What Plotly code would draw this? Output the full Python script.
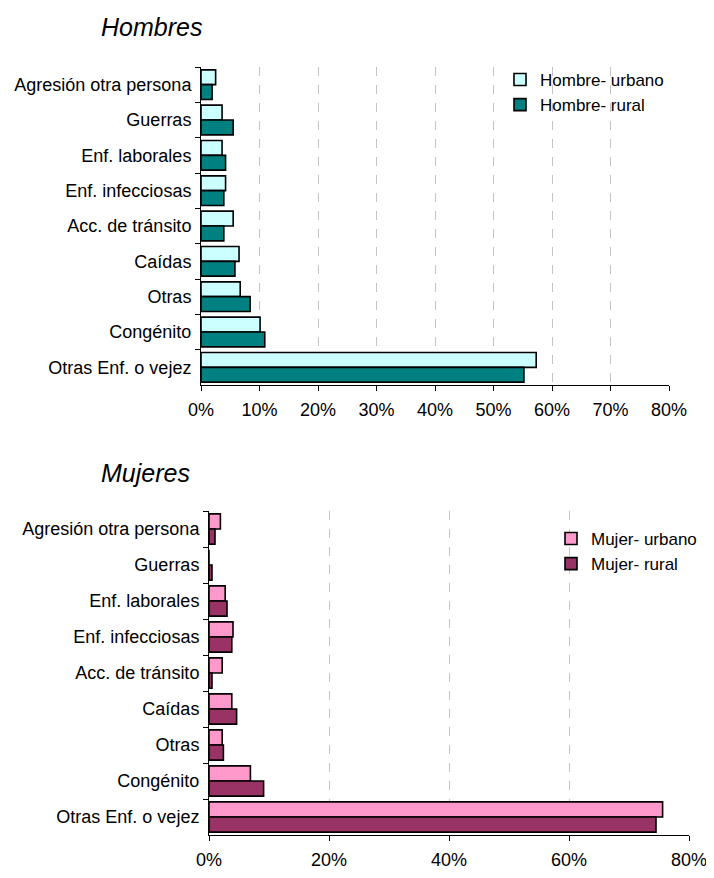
import plotly.graph_objects as go

categories = [
    "Agresión otra persona",
    "Guerras",
    "Enf. laborales",
    "Enf. infecciosas",
    "Acc. de tránsito",
    "Caídas",
    "Otras",
    "Congénito",
    "Otras Enf. o vejez",
]

hombre_urbano = [2.5, 3.6, 3.6, 4.2, 5.5, 6.5, 6.7, 10.1, 57.3]
hombre_rural = [1.9, 5.5, 4.2, 3.9, 3.9, 5.8, 8.4, 10.9, 55.2]
mujer_urbano = [1.9, 0.0, 2.7, 4.0, 2.2, 3.8, 2.2, 6.9, 75.6]
mujer_rural = [1.0, 0.5, 3.0, 3.8, 0.5, 4.6, 2.4, 9.1, 74.5]

W, H = 714, 878
# the page adds a small body margin, so positions are shifted back by it
OFF = 8
FONT = "Liberation Sans, Arial, sans-serif"


def px(x):
    return (x - OFF) / W


def py(y):
    return 1 - (y - OFF) / H


fig = go.Figure()

series = [
    ("Hombre- urbano", hombre_urbano, "#CCFFFF", "x", "y", "legend", "g1"),
    ("Hombre- rural", hombre_rural, "#008080", "x", "y", "legend", "g2"),
    ("Mujer- urbano", mujer_urbano, "#FF99CC", "x2", "y2", "legend2", "g3"),
    ("Mujer- rural", mujer_rural, "#993366", "x2", "y2", "legend2", "g4"),
]
for name, vals, color, xa, ya, leg, grp in series:
    fig.add_trace(
        go.Bar(
            y=categories,
            x=vals,
            name=name,
            orientation="h",
            marker=dict(color=color, line=dict(color="black", width=1.6)),
            xaxis=xa,
            yaxis=ya,
            legend=leg,
            legendgroup=grp,
        )
    )

xcommon = dict(
    range=[0, 80],
    ticksuffix="%",
    showgrid=True,
    gridcolor="#c4c4c4",
    griddash="dash",
    gridwidth=1,
    showline=True,
    linecolor="black",
    linewidth=1,
    ticks="outside",
    ticklen=5,
    tickcolor="black",
    zeroline=False,
    tickfont=dict(size=18, color="black"),
    ticklabelstandoff=3,
    fixedrange=True,
)
ycommon = dict(
    autorange="reversed",
    showline=True,
    linecolor="black",
    linewidth=1,
    ticks="outside",
    tickson="boundaries",
    ticklen=5,
    tickcolor="black",
    showgrid=False,
    tickfont=dict(size=18, color="black"),
    ticklabelstandoff=5,
    fixedrange=True,
)

fig.update_layout(
    width=W,
    height=H,
    margin=dict(l=0, r=0, t=0, b=0, autoexpand=False),
    paper_bgcolor="white",
    plot_bgcolor="white",
    font=dict(family=FONT, color="black"),
    barmode="group",
    bargap=0.16,
    bargroupgap=0,
    xaxis=dict(xcommon, domain=[px(201), px(669)], dtick=10, anchor="y"),
    yaxis=dict(ycommon, domain=[py(385), py(67)], anchor="x"),
    xaxis2=dict(xcommon, domain=[px(209), px(689)], dtick=20, anchor="y2"),
    yaxis2=dict(ycommon, domain=[py(835), py(511)], anchor="x2"),
    legend=dict(
        x=px(500), y=py(62), xanchor="left", yanchor="top",
        font=dict(size=17), tracegroupgap=0, bgcolor="rgba(0,0,0,0)",
    ),
    legend2=dict(
        x=px(551), y=py(521), xanchor="left", yanchor="top",
        font=dict(size=17), tracegroupgap=0, bgcolor="rgba(0,0,0,0)",
    ),
    annotations=[
        dict(text="<i>Hombres</i>", x=px(151), y=py(27), xref="paper", yref="paper",
             showarrow=False, font=dict(size=25), xanchor="center", yanchor="middle"),
        dict(text="<i>Mujeres</i>", x=px(145), y=py(473), xref="paper", yref="paper",
             showarrow=False, font=dict(size=25), xanchor="center", yanchor="middle"),
    ],
)

fig.write_html("out.html")
